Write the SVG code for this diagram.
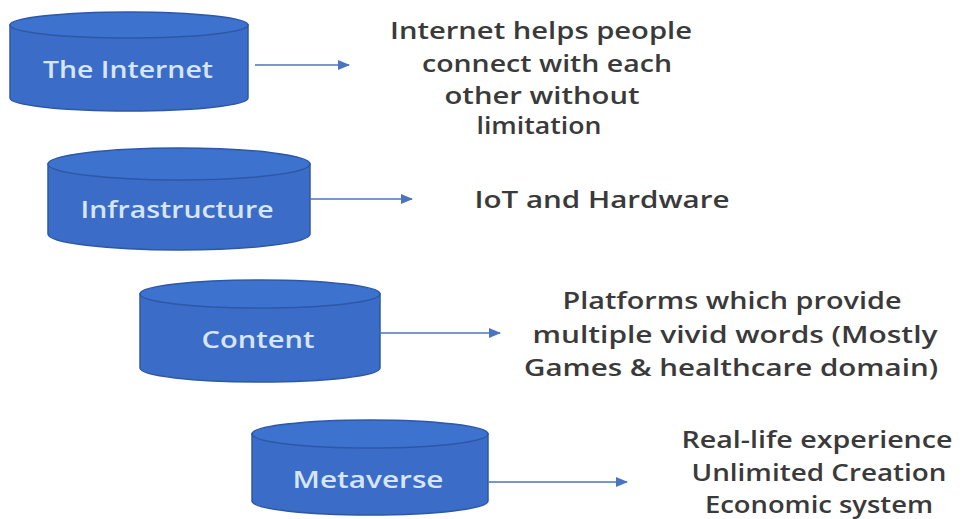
<svg xmlns="http://www.w3.org/2000/svg" width="964" height="519" viewBox="0 0 964 519">
  <style>
    .body { fill: #3a6cc8; stroke: #2d58a6; stroke-width: 1.5; }
    .top { fill: #3e72cf; stroke: #2d58a6; stroke-width: 1.5; }
    .label { font-family: "Open Sans", "Noto Sans", sans-serif; font-size: 23px; font-weight: 600; fill: #d6e6f8; text-anchor: middle; }
    .desc { font-family: "Open Sans", "Noto Sans", sans-serif; font-size: 23px; font-weight: 600; fill: #3a3a3a; text-anchor: middle; }
    .conn { stroke: #4a74bf; stroke-width: 1.3; fill: none; marker-end: url(#arrow); }
  </style>
  <defs>
    <marker id="arrow" viewBox="0 0 12 10" refX="11" refY="5" markerWidth="12" markerHeight="10" markerUnits="userSpaceOnUse" orient="auto">
      <path d="M0,0 L12,5 L0,10 Z" fill="#4a74bf"/>
    </marker>
  </defs>
  <rect width="964" height="519" fill="#ffffff"/>

  <g id="node-internet">
    <path class="body" d="M10,25 L10,98 A119,13 0 0 0 248,98 L248,25 Z"/>
    <ellipse class="top" cx="129" cy="25" rx="119" ry="13"/>
    <text class="label" x="128" y="78" textLength="170" lengthAdjust="spacingAndGlyphs">The Internet</text>
  </g>
  <g id="node-infrastructure">
    <path class="body" d="M48,164 L48,234 A131,16 0 0 0 310,234 L310,164 Z"/>
    <ellipse class="top" cx="179" cy="164" rx="131" ry="16"/>
    <text class="label" x="177" y="218" textLength="193" lengthAdjust="spacingAndGlyphs">Infrastructure</text>
  </g>
  <g id="node-content">
    <path class="body" d="M140,294 L140,368 A120,14 0 0 0 380,368 L380,294 Z"/>
    <ellipse class="top" cx="260" cy="294" rx="120" ry="14"/>
    <text class="label" x="258" y="348" textLength="113" lengthAdjust="spacingAndGlyphs">Content</text>
  </g>
  <g id="node-metaverse">
    <path class="body" d="M252,434 L252,501 A118,14 0 0 0 488,501 L488,434 Z"/>
    <ellipse class="top" cx="370" cy="434" rx="118" ry="14"/>
    <text class="label" x="368" y="488" textLength="151" lengthAdjust="spacingAndGlyphs">Metaverse</text>
  </g>

  <g id="connectors">
    <line class="conn" x1="255" y1="65" x2="349" y2="65"/>
    <line class="conn" x1="310" y1="199" x2="412" y2="199"/>
    <line class="conn" x1="380" y1="333" x2="500" y2="333"/>
    <line class="conn" x1="488" y1="482" x2="627" y2="482"/>
  </g>

  <g id="desc-internet">
    <text class="desc" x="541" y="39" textLength="302" lengthAdjust="spacingAndGlyphs">Internet helps people</text>
    <text class="desc" x="547" y="72" textLength="250" lengthAdjust="spacingAndGlyphs">connect with each</text>
    <text class="desc" x="542" y="104" textLength="195" lengthAdjust="spacingAndGlyphs">other without</text>
    <text class="desc" x="539" y="134" textLength="125" lengthAdjust="spacingAndGlyphs">limitation</text>
  </g>
  <g id="desc-infrastructure">
    <text class="desc" x="602" y="208" textLength="255" lengthAdjust="spacingAndGlyphs">IoT and Hardware</text>
  </g>
  <g id="desc-content">
    <text class="desc" x="732" y="309" textLength="339" lengthAdjust="spacingAndGlyphs">Platforms which provide</text>
    <text class="desc" x="735" y="343" textLength="405" lengthAdjust="spacingAndGlyphs">multiple vivid words (Mostly</text>
    <text class="desc" x="731" y="376" textLength="414" lengthAdjust="spacingAndGlyphs">Games &amp; healthcare domain)</text>
  </g>
  <g id="desc-metaverse">
    <text class="desc" x="817" y="448" textLength="271" lengthAdjust="spacingAndGlyphs">Real-life experience</text>
    <text class="desc" x="819" y="481" textLength="255" lengthAdjust="spacingAndGlyphs">Unlimited Creation</text>
    <text class="desc" x="819" y="513" textLength="228" lengthAdjust="spacingAndGlyphs">Economic system</text>
  </g>
</svg>
